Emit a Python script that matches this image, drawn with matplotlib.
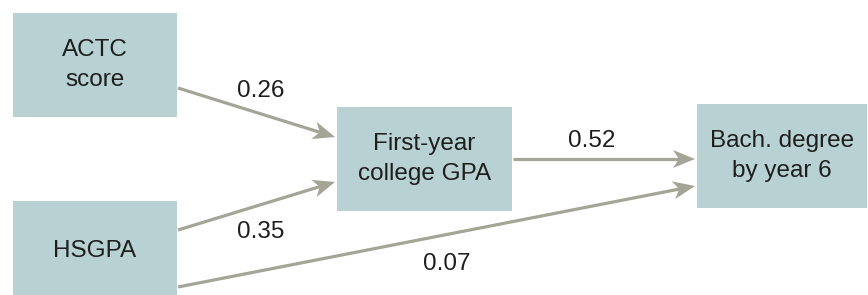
import numpy as np
import matplotlib.pyplot as plt
from matplotlib.patches import Rectangle, Polygon

# path model data
nodes = ["ACTC\nscore", "HSGPA", "First-year\ncollege GPA", "Bach. degree\nby year 6"]
path_from = ["ACTC\nscore", "HSGPA", "First-year\ncollege GPA", "HSGPA"]
path_to = ["First-year\ncollege GPA", "First-year\ncollege GPA", "Bach. degree\nby year 6", "Bach. degree\nby year 6"]
coefs = [0.26, 0.35, 0.52, 0.07]

# layout (pixel units, y down)
box_xy = {
    "ACTC\nscore": (13, 13, 164, 104),
    "HSGPA": (13, 201, 164, 100),
    "First-year\ncollege GPA": (337, 107, 175, 104),
    "Bach. degree\nby year 6": (697, 104, 170, 104),
}
arrow_pts = [((178, 88), (335, 137)),
             ((178, 230), (335, 182)),
             ((513, 159), (695, 159)),
             ((178, 287), (695, 186))]
label_pos = [(261, 91), (261, 232), (592, 141), (447, 264)]

box_color = "#b8d2d4"
arrow_color = "#a4a596"
text_color = "#1e1e1e"
plt.rcParams['font.family'] = ['Liberation Sans', 'DejaVu Sans']

fig = plt.figure(figsize=(8.68, 2.95), dpi=100)
ax = fig.add_axes([0, 0, 1, 1])
ax.set_xlim(0, 868)
ax.set_ylim(295, 0)
ax.axis("off")

for name in nodes:
    x, y, w, h = box_xy[name]
    ax.add_patch(Rectangle((x, y), w, h, color=box_color, lw=0))
    ax.text(x + w / 2, y + h / 2, name, ha="center", va="center",
            fontsize=17.5, color=text_color, linespacing=1.45)


def draw_arrow(p0, p1, head_len=22, head_w=9, notch=6):
    p0 = np.array(p0, float)
    p1 = np.array(p1, float)
    d = p1 - p0
    d /= np.hypot(*d)
    n = np.array([-d[1], d[0]])
    base = p1 - d * head_len
    inner = base + d * notch
    ax.plot([p0[0], inner[0]], [p0[1], inner[1]], color=arrow_color,
            lw=2.3, solid_capstyle="butt")
    head = [p1, base + n * head_w, inner, base - n * head_w]
    ax.add_patch(Polygon(head, closed=True, color=arrow_color, lw=0))


for (p0, p1), c, (lx, ly) in zip(arrow_pts, coefs, label_pos):
    draw_arrow(p0, p1)
    ax.text(lx, ly, f"{c:.2f}", ha="center", va="center",
            fontsize=17.5, color=text_color)

fig.savefig("out.png", dpi=100)
